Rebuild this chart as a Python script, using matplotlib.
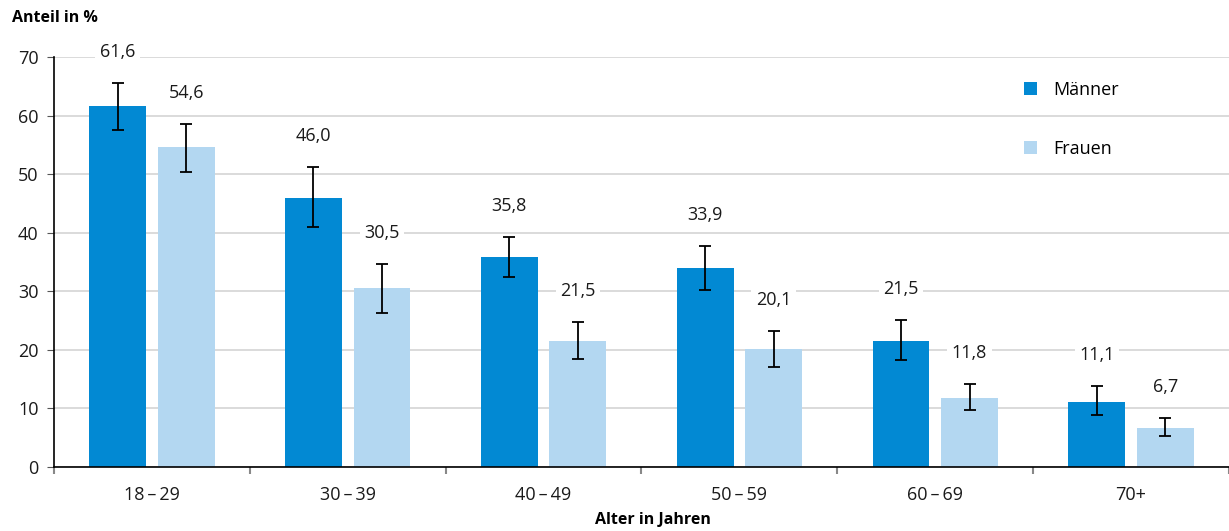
import matplotlib
matplotlib.use("Agg")
import matplotlib.pyplot as plt
import numpy as np

plt.rcParams['font.family'] = ['Open Sans', 'DejaVu Sans']

categories = ["18\u2009–\u200929", "30\u2009–\u200939", "40\u2009–\u200949",
              "50\u2009–\u200959", "60\u2009–\u200969", "70+"]
maenner = [61.6, 46.0, 35.8, 33.9, 21.5, 11.1]
maenner_low = [57.5, 41.0, 32.4, 30.2, 18.3, 8.9]
maenner_high = [65.6, 51.2, 39.3, 37.7, 25.1, 13.8]
frauen = [54.6, 30.5, 21.5, 20.1, 11.8, 6.7]
frauen_low = [50.4, 26.3, 18.4, 17.1, 9.7, 5.3]
frauen_high = [58.6, 34.7, 24.8, 23.2, 14.2, 8.4]
series_names = ["Männer", "Frauen"]
colors = ["#0289D3", "#B3D7F1"]

fig = plt.figure(figsize=(12.29, 5.31), dpi=100)
ax = fig.add_axes([0.0439, 0.1205, 0.9561, 0.7722])

x = np.arange(len(categories))
w = 0.29
off = 0.175
grid_c = "#d4d4d4"

for vals, lo, hi, name, col, d in [(maenner, maenner_low, maenner_high, series_names[0], colors[0], -off),
                                   (frauen, frauen_low, frauen_high, series_names[1], colors[1], off)]:
    vals = np.array(vals); lo = np.array(lo); hi = np.array(hi)
    ax.bar(x + d, vals, w, color=col, label=name, zorder=2)
    ax.errorbar(x + d, vals, yerr=[vals - lo, hi - vals], fmt='none', ecolor='black',
                elinewidth=1.3, capsize=4, capthick=1.3, zorder=3)
    for xi, v, h in zip(x + d, vals, hi):
        ax.annotate(f"{v:.1f}".replace('.', ','), (xi, h), xytext=(0, 16), textcoords='offset points',
                    ha='center', va='bottom', fontsize=13, color='#1a1a1a', zorder=4,
                    annotation_clip=False,
                    bbox=dict(boxstyle='square,pad=0.25', fc='white', ec='none'))

ax.set_ylim(0, 70)
ax.set_xlim(-0.5, 5.449)
ax.set_yticks(range(0, 71, 10))
ax.yaxis.grid(True, color=grid_c, linewidth=1.2, zorder=0)
ax.set_axisbelow(True)
ax.tick_params(axis='y', labelsize=13, length=5, color='#555555', labelcolor='#1a1a1a', pad=6)

ax.set_xticks(np.arange(-0.5, 5.6, 1.0))
ax.set_xticklabels([])
ax.tick_params(axis='x', which='major', length=5, color='#888888', width=1.5)
ax.set_xticks(x, minor=True)
ax.set_xticklabels(categories, minor=True)
ax.tick_params(axis='x', which='minor', length=0, labelsize=13, pad=14, labelcolor='#1a1a1a')

for s in ['top', 'right']:
    ax.spines[s].set_visible(False)
ax.spines['left'].set_linewidth(1.2)
ax.spines['bottom'].set_linewidth(1.2)

leg = ax.legend(loc='upper left', bbox_to_anchor=(0.812, 0.982), frameon=False, fontsize=13,
                handlelength=0.7, handleheight=0.7, labelspacing=2.3, handletextpad=0.9)

fig.text(0.0098, 0.966, "Anteil in %", fontsize=11.5, fontweight='bold', ha='left', va='center')
fig.text(0.531, 0.02, "Alter in Jahren", fontsize=11.5, fontweight='bold', ha='center', va='center')

fig.savefig("out.png", dpi=100)
